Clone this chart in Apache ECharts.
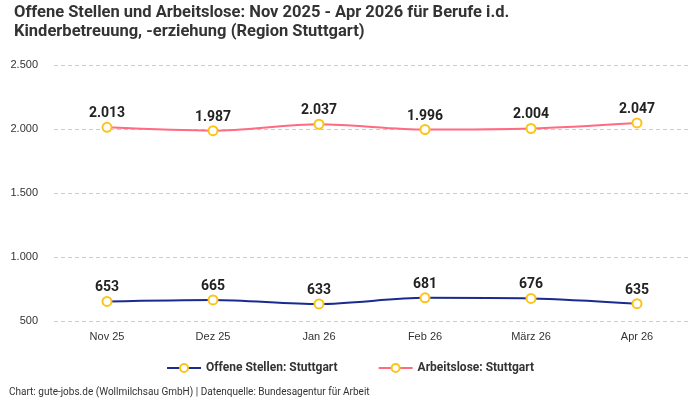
<!DOCTYPE html>
<html><head><meta charset="utf-8">
<script src="https://cdn.jsdelivr.net/npm/echarts@6/dist/echarts.min.js"></script>
<style>html,body{margin:0;padding:0;background:#fff}#c{width:700px;height:400px}</style>
</head><body><div id="c"></div>
<script>
const categories = ['Nov 25','Dez 25','Jan 26','Feb 26','März 26','Apr 26'];
const offeneStellen = [653, 665, 633, 681, 676, 635];
const arbeitslose = [2013, 1987, 2037, 1996, 2004, 2047];
const yTicks = {min: 500, max: 2500, interval: 500};

const fmt = v => String(v).replace(/\B(?=(\d{3})+(?!\d))/g, '.');
const chart = echarts.init(document.getElementById('c'), null, {renderer: 'canvas'});
const labelStyle = {show: true, position: 'top', distance: 1, fontFamily: 'Roboto', fontWeight: 'bold', fontSize: 14, color: '#222', formatter: p => fmt(p.value)};
chart.setOption({
  animation: false,
  title: {
    text: 'Offene Stellen und Arbeitslose: Nov 2025 - Apr 2026 für Berufe i.d.\nKinderbetreuung, -erziehung (Region Stuttgart)',
    left: 9, top: -2,
    textStyle: {fontFamily: 'Roboto', fontWeight: 'bold', fontSize: 16.5, color: '#333', lineHeight: 19}
  },
  grid: {left: 54, right: 10, top: 65, bottom: 79},
  legend: {
    bottom: 21, left: 'center', itemGap: 40, itemWidth: 34, itemHeight: 10,
    textStyle: {fontFamily: 'Roboto', fontWeight: 'bold', fontSize: 12, color: '#333'},
    data: ['Offene Stellen: Stuttgart', 'Arbeitslose: Stuttgart']
  },
  graphic: [{type: 'text', left: 9, bottom: 3, style: {text: 'Chart: gute-jobs.de (Wollmilchsau GmbH) | Datenquelle: Bundesagentur für Arbeit', font: '10px Roboto', fill: '#333'}}],
  xAxis: {
    type: 'category', data: categories, boundaryGap: true,
    axisLine: {show: false}, axisTick: {show: false},
    axisLabel: {fontFamily: 'Liberation Sans', fontSize: 11, color: '#333', margin: 10}
  },
  yAxis: {
    type: 'value', min: yTicks.min, max: yTicks.max, interval: yTicks.interval,
    axisLabel: {fontFamily: 'Liberation Sans', fontSize: 11, color: '#333', margin: 16, formatter: v => fmt(v)},
    splitLine: {lineStyle: {type: [4, 3], color: '#ccc'}}
  },
  series: [
    {name: 'Offene Stellen: Stuttgart', type: 'line', data: offeneStellen, smooth: 0.3,
     symbol: 'circle', symbolSize: 9,
     lineStyle: {color: '#1a2b8f', width: 2},
     itemStyle: {color: '#fff', borderColor: '#fcc419', borderWidth: 2},
     label: labelStyle},
    {name: 'Arbeitslose: Stuttgart', type: 'line', data: arbeitslose, smooth: 0.3,
     symbol: 'circle', symbolSize: 9,
     lineStyle: {color: '#ff6b81', width: 2},
     itemStyle: {color: '#fff', borderColor: '#fcc419', borderWidth: 2},
     label: labelStyle}
  ]
});
</script></body></html>
